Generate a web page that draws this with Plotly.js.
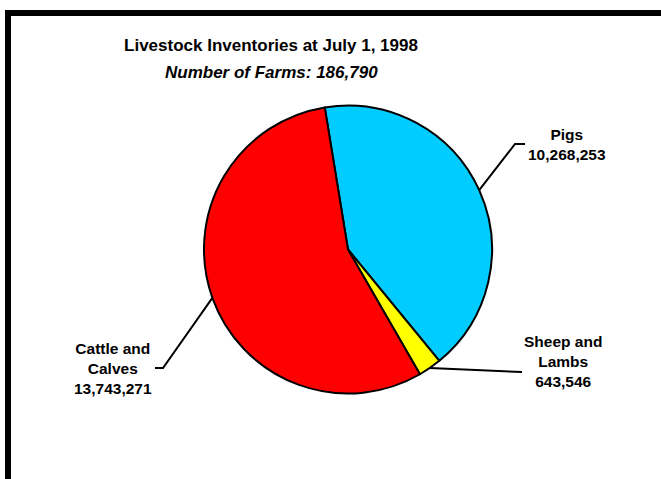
<!DOCTYPE html>
<html>
<head>
<meta charset="utf-8">
<script src="https://cdn.plot.ly/plotly-3.0.1.min.js"></script>
<style>
  html, body { margin: 0; padding: 0; background: #ffffff; overflow: hidden; }
  #chart { width: 661px; height: 479px; }
</style>
</head>
<body>
<div id="chart"></div>
<script>
// ---- data ----
const categories = ['Pigs', 'Sheep and Lambs', 'Cattle and Calves'];
const values = [10268253, 643546, 13743271];
const labelNames = ['Pigs', 'Sheep and<br>Lambs', 'Cattle and<br>Calves'];
const titleText = 'Livestock Inventories at July 1, 1998';
const subtitleText = 'Number of Farms: 186,790';

// ---- style / layout ----
const colors = ['#00CCFF', '#FFFF00', '#FF0000'];
const W = 661, H = 479;
const pieCx = 348, pieCy = 249.5, pieR = 144;
const rotation = -9.3;
const FONT = '"Liberation Sans", Arial, sans-serif';
// label layout: text centre and leader-line elbow / end (pixels)
const labelLayout = [
  { tx: 567, ty: 144, elbow: [515, 144], end: [525, 144] },
  { tx: 563, ty: 361, elbow: null, end: [522, 372] },
  { tx: 113, ty: 368, elbow: [163, 368], end: [155, 368] }
];

const px = x => x / W;
const py = y => 1 - y / H;

const total = values.reduce((a, b) => a + b, 0);
const annotations = [];
const shapes = [];

// frame (top and left edges; right and bottom lie outside the picture)
shapes.push({
  type: 'path', xref: 'paper', yref: 'paper',
  path: `M${px(8)},${py(H + 20)} L${px(8)},${py(13)} L${px(W + 20)},${py(13)}`,
  line: { color: '#000000', width: 6 }, layer: 'below'
});

let acc = 0;
values.forEach((v, i) => {
  const mid = rotation + 360 * (acc + v / 2) / total;
  acc += v;
  const a = mid * Math.PI / 180;
  const sx = pieCx + pieR * Math.sin(a);
  const sy = pieCy - pieR * Math.cos(a);
  const L = labelLayout[i];
  let path = `M${px(sx)},${py(sy)}`;
  if (L.elbow) path += ` L${px(L.elbow[0])},${py(L.elbow[1])}`;
  path += ` L${px(L.end[0])},${py(L.end[1])}`;
  shapes.push({
    type: 'path', xref: 'paper', yref: 'paper', path: path,
    line: { color: '#000000', width: 2 }
  });
  annotations.push({
    xref: 'paper', yref: 'paper', x: px(L.tx), y: py(L.ty),
    xanchor: 'center', yanchor: 'middle', showarrow: false,
    text: '<b>' + labelNames[i] + '<br>' + v.toLocaleString('en-US') + '</b>',
    font: { family: FONT, size: 15.5, color: '#000000' }, align: 'center'
  });
});

annotations.push({
  xref: 'paper', yref: 'paper', x: px(271), y: py(72),
  xanchor: 'center', yanchor: 'middle', showarrow: false,
  text: '<b><i>' + subtitleText + '</i></b>',
  font: { family: FONT, size: 17, color: '#000000' }
});

const trace = {
  type: 'pie',
  labels: categories,
  values: values,
  sort: false,
  direction: 'clockwise',
  rotation: rotation,
  textinfo: 'none',
  hoverinfo: 'label+value',
  marker: { colors: colors, line: { color: '#000000', width: 2 } },
  domain: { x: [px(pieCx - pieR), px(pieCx + pieR)], y: [py(pieCy + pieR), py(pieCy - pieR)] },
  showlegend: false
};

const layout = {
  width: W, height: H,
  margin: { l: 0, r: 0, t: 0, b: 0 },
  paper_bgcolor: '#ffffff',
  plot_bgcolor: '#ffffff',
  showlegend: false,
  title: {
    text: '<b>' + titleText + '</b>',
    font: { family: FONT, size: 17, color: '#000000' },
    x: px(271), xanchor: 'center', xref: 'paper',
    y: py(45), yanchor: 'middle', yref: 'paper'
  },
  annotations: annotations,
  shapes: shapes
};

Plotly.newPlot('chart', [trace], layout, { displayModeBar: false, staticPlot: true });
</script>
</body>
</html>
